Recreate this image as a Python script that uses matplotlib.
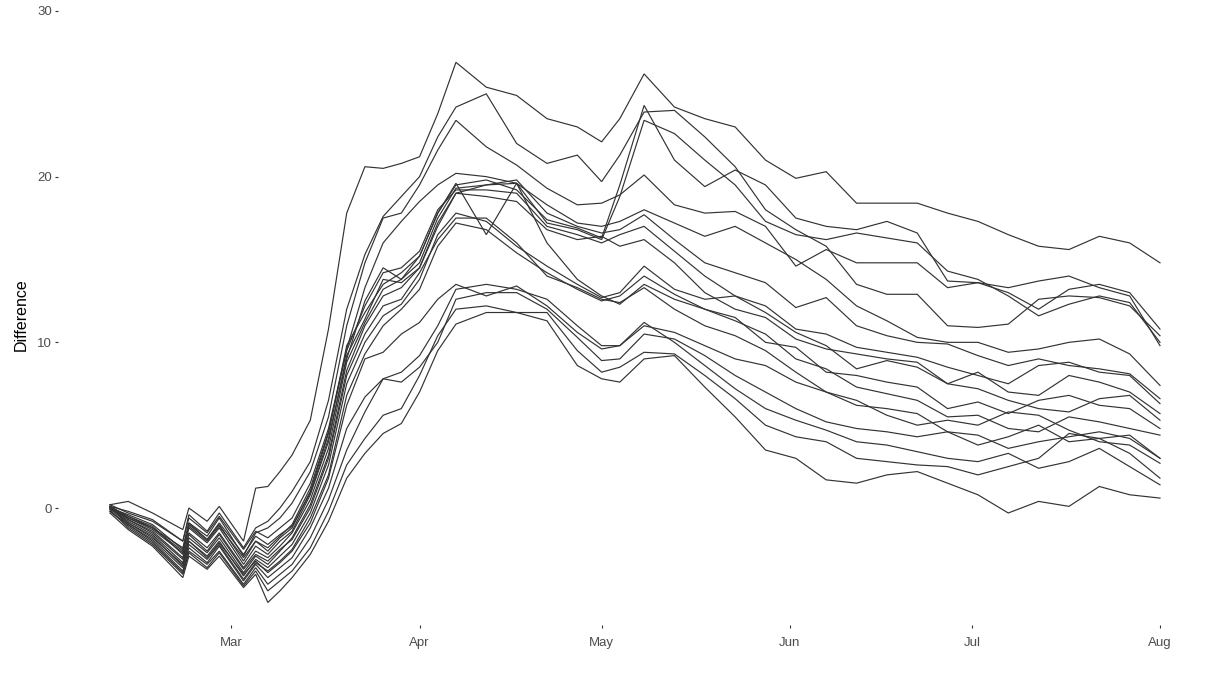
import matplotlib
matplotlib.use('Agg')
import matplotlib.pyplot as plt
import matplotlib.dates as mdates
import numpy as np
import datetime as dt

plt.rcParams['font.family'] = ['Liberation Sans', 'DejaVu Sans']

dates = ['2020-02-10', '2020-02-13', '2020-02-17', '2020-02-22', '2020-02-23', '2020-02-26',
         '2020-02-28', '2020-03-03', '2020-03-05', '2020-03-07', '2020-03-09', '2020-03-11',
         '2020-03-14', '2020-03-17', '2020-03-20', '2020-03-23', '2020-03-26', '2020-03-29',
         '2020-04-01', '2020-04-04', '2020-04-07',
         '2020-04-12', '2020-04-17', '2020-04-22', '2020-04-27', '2020-05-01', '2020-05-04',
         '2020-05-08', '2020-05-13', '2020-05-18', '2020-05-23', '2020-05-28', '2020-06-02',
         '2020-06-07', '2020-06-12', '2020-06-17', '2020-06-22', '2020-06-27', '2020-07-02',
         '2020-07-07', '2020-07-12', '2020-07-17', '2020-07-22', '2020-07-27', '2020-08-01']

T1 = [0.2, 0.4, -0.3, -1.3, 0.0, -0.8, 0.1, -2.0, 1.2, 1.3, 2.2, 3.2,
      5.3, 10.8, 17.8, 20.6, 20.5, 20.8, 21.2, 23.8, 26.9,
      25.4, 24.9, 23.5, 23.0, 22.1, 23.5, 26.2, 24.2, 23.5, 23.0, 21.0, 19.9,
      20.3, 18.4, 18.4, 18.4, 17.8, 17.3, 16.5, 15.8, 15.6, 16.4, 16.0, 14.8]
T2 = [0.1, -0.2, -0.7, -2.0, -0.4, -1.4, -0.3, -2.4, -1.2, -0.8, 0.0, 1.0,
      2.8, 6.5, 12.0, 15.3, 17.6, 18.8, 20.0, 22.4, 24.2,
      25.0, 22.0, 20.8, 21.3, 19.7, 21.3, 23.9, 24.0, 22.4, 20.6, 18.0, 16.8,
      15.8, 13.5, 12.9, 12.9, 11.0, 10.9, 11.1, 12.6, 12.8, 12.7, 12.2, 10.4]
T3 = [0.0, -0.4, -1.0, -2.5, -0.9, -1.7, -0.6, -2.9, -1.5, -1.2, -0.6, 0.3,
      2.2, 5.5, 11.0, 14.8, 17.5, 17.8, 19.5, 21.6, 23.4,
      21.8, 20.7, 19.3, 18.3, 18.4, 18.9, 20.1, 18.3, 17.8, 17.9, 17.0, 14.6,
      15.6, 14.8, 14.8, 14.8, 13.3, 13.6, 13.3, 13.7, 14.0, 13.3, 12.8, 9.8]
SA = [0.1, -0.6, -1.2, -2.6, -1.0, -1.9, -1.0, -3.2, -2.0, -2.6, -1.8, -1.2,
      1.0, 4.5, 9.8, 11.8, 13.5, 14.2, 15.2, 17.8, 19.5,
      19.8, 19.2, 17.4, 16.9, 16.3, 19.5, 24.3, 21.0, 19.4, 20.4, 19.5, 17.5,
      17.0, 16.8, 17.3, 16.6, 13.7, 13.6, 13.0, 12.0, 13.2, 13.5, 13.0, 10.8]
SB = [0.0, -0.5, -1.1, -2.8, -1.2, -2.1, -1.2, -3.4, -2.3, -2.8, -2.0, -1.4,
      0.8, 4.0, 9.2, 11.4, 13.8, 13.6, 14.5, 17.2, 19.0,
      19.5, 19.6, 17.2, 16.8, 16.2, 18.8, 23.4, 22.6, 21.0, 19.5, 17.3, 16.5,
      16.2, 16.6, 16.3, 16.0, 14.3, 13.8, 12.8, 11.6, 12.3, 12.8, 12.4, 10.0]
T4 = [0.2, -0.3, -0.8, -2.0, -0.6, -1.5, -0.5, -2.5, -1.4, -1.8, -1.2, -0.6,
      1.5, 4.8, 9.6, 13.3, 16.0, 17.3, 18.5, 19.5, 20.2,
      20.0, 19.6, 18.3, 17.2, 17.0, 17.3, 18.0, 17.2, 16.4, 17.0, 16.0, 15.0,
      13.8, 12.2, 11.3, 10.3, 10.0, 10.0, 9.4, 9.6, 10.0, 10.2, 9.3, 7.4]
B1 = [0.1, -0.7, -1.4, -3.0, -1.5, -2.4, -1.5, -3.6, -2.6, -3.0, -2.3, -1.5,
      0.5, 3.6, 8.8, 11.2, 13.2, 13.8, 14.8, 17.5, 19.3,
      19.5, 19.8, 17.8, 17.0, 16.6, 16.8, 17.7, 16.2, 14.8, 14.2, 13.6, 12.1,
      12.7, 11.0, 10.4, 10.0, 9.9, 9.2, 8.6, 9.0, 8.6, 8.4, 8.1, 6.6]
B2 = [-0.1, -0.6, -1.3, -2.7, -1.1, -2.0, -1.1, -3.0, -2.0, -2.4, -1.7, -1.0,
      1.2, 4.6, 9.5, 12.2, 14.2, 14.5, 15.5, 18.0, 19.2,
      19.2, 19.0, 17.0, 16.5, 16.0, 16.5, 17.0, 15.5, 14.0, 12.8, 12.2, 10.8,
      10.5, 9.7, 9.4, 9.1, 8.5, 8.0, 7.5, 8.6, 8.8, 8.2, 8.0, 6.3]
B3 = [0.0, -0.8, -1.6, -3.3, -1.8, -2.7, -1.8, -3.9, -2.9, -3.4, -2.6, -1.8,
      0.2, 3.2, 8.3, 11.0, 12.8, 13.3, 14.5, 17.0, 19.0,
      18.8, 18.5, 16.8, 16.2, 16.4, 15.8, 16.2, 14.8, 13.0, 12.0, 11.5, 10.2,
      9.6, 9.3, 9.0, 8.8, 7.5, 8.2, 7.0, 6.8, 8.0, 7.6, 7.0, 5.7]
Bd = [0.1, -0.5, -1.2, -2.4, -0.9, -1.9, -0.9, -2.8, -1.7, -2.2, -1.6, -1.1,
      0.9, 4.2, 9.0, 12.5, 14.5, 13.8, 15.2, 17.8, 19.6,
      16.5, 19.6, 16.0, 13.8, 12.8, 12.3, 13.5, 12.6, 12.0, 11.5, 10.0, 9.7,
      8.2, 8.0, 7.6, 7.3, 6.0, 6.4, 5.7, 6.5, 6.8, 6.2, 6.0, 4.8]
C1 = [0.0, -0.9, -1.7, -3.5, -2.0, -2.9, -2.0, -4.1, -3.1, -3.6, -2.9, -2.2,
      -0.3, 2.6, 7.5, 10.0, 11.6, 12.3, 13.8, 16.5, 17.8,
      17.3, 15.8, 14.6, 13.5, 12.7, 13.0, 14.6, 13.2, 12.6, 12.8, 11.8, 10.6,
      9.8, 8.4, 8.9, 8.5, 7.5, 7.2, 6.5, 6.0, 5.8, 6.6, 6.8, 5.3]
C2 = [-0.2, -1.0, -1.9, -3.6, -2.2, -3.1, -2.2, -4.3, -3.3, -3.8, -3.2, -2.5,
      -0.6, 2.0, 6.8, 9.3, 11.0, 12.0, 13.2, 15.8, 17.2,
      16.8, 15.4, 14.2, 13.2, 12.5, 12.8, 14.0, 12.9, 12.0, 11.3, 10.5, 9.0,
      8.4, 7.3, 6.9, 6.5, 5.5, 5.6, 4.8, 4.6, 5.5, 5.2, 4.8, 4.4]
C3 = [0.1, -0.7, -1.5, -3.1, -1.6, -2.6, -1.6, -3.7, -2.8, -3.2, -2.5, -1.9,
      0.0, 3.0, 8.0, 10.5, 12.2, 12.6, 14.2, 16.2, 17.5,
      17.5, 16.0, 14.0, 13.3, 12.6, 12.4, 13.3, 12.0, 11.0, 10.4, 9.5, 8.2,
      7.0, 6.2, 6.0, 5.7, 4.6, 4.4, 3.6, 4.0, 4.3, 4.6, 4.2, 3.0]
D1 = [0.0, -1.0, -2.0, -3.8, -2.4, -3.3, -2.3, -4.4, -3.4, -4.2, -3.6, -3.0,
      -1.2, 1.2, 4.8, 6.7, 7.8, 8.2, 9.2, 11.0, 13.2,
      13.5, 13.2, 12.6, 11.0, 9.8, 9.8, 11.0, 10.6, 9.8, 9.0, 8.6, 7.6,
      7.0, 6.5, 5.6, 5.0, 5.3, 5.0, 5.8, 5.6, 4.7, 4.0, 3.8, 2.7]
D2 = [-0.2, -1.1, -2.1, -3.9, -2.6, -3.4, -2.6, -4.6, -3.6, -4.6, -4.0, -3.4,
      -1.8, 0.5, 3.5, 5.8, 7.8, 7.6, 8.5, 10.0, 12.6,
      13.0, 13.0, 12.0, 10.3, 8.9, 9.0, 10.5, 10.2, 9.2, 8.0, 7.0, 6.0,
      5.2, 4.8, 4.6, 4.3, 4.6, 3.8, 4.3, 5.0, 4.0, 4.2, 3.3, 1.8]
D3 = [0.1, -0.9, -1.8, -3.4, -2.0, -3.0, -2.1, -4.0, -3.2, -3.9, -3.3, -2.6,
      -0.9, 1.8, 6.2, 9.0, 9.4, 10.5, 11.2, 12.6, 13.5,
      12.8, 13.4, 12.2, 10.6, 9.6, 9.8, 11.2, 10.0, 8.6, 7.2, 6.0, 5.3,
      4.7, 4.0, 3.8, 3.4, 3.0, 2.8, 3.3, 2.4, 2.8, 3.6, 2.5, 1.4]
D4 = [-0.1, -1.2, -2.2, -4.0, -2.7, -3.6, -2.7, -4.7, -3.8, -5.0, -4.4, -3.8,
      -2.4, -0.2, 2.6, 4.2, 5.6, 6.0, 8.0, 10.4, 12.0,
      12.2, 11.8, 11.8, 9.5, 8.2, 8.5, 9.4, 9.3, 8.0, 6.6, 5.0, 4.3,
      4.0, 3.0, 2.8, 2.6, 2.5, 2.0, 2.5, 3.0, 4.5, 4.2, 4.4, 3.0]
D5 = [-0.3, -1.3, -2.3, -4.2, -2.9, -3.7, -2.9, -4.8, -4.0, -5.7, -5.0, -4.2,
      -2.8, -0.8, 1.8, 3.3, 4.5, 5.1, 7.0, 9.5, 11.1,
      11.8, 11.8, 11.3, 8.6, 7.8, 7.6, 9.0, 9.2, 7.3, 5.5, 3.5, 3.0,
      1.7, 1.5, 2.0, 2.2, 1.5, 0.8, -0.3, 0.4, 0.1, 1.3, 0.8, 0.6]

series = [T1, T2, T3, SA, SB, T4, B1, B2, B3, Bd, C1, C2, C3, D1, D2, D3, D4, D5]

x = mdates.date2num([dt.datetime.strptime(d, '%Y-%m-%d') for d in dates])

W, H = 1218, 678
fig = plt.figure(figsize=(W / 100, H / 100), dpi=100)
left, right, top, bottom = 57.5, 1212.5, 5, 625
ax = fig.add_axes([left / W, (H - bottom) / H, (right - left) / W, (bottom - top) / H])

for s in series:
    ax.plot(x, s, color='#333333', lw=0.85, solid_joinstyle='miter')

pad = 8.65
ax.set_xlim(x[0] - pad, x[-1] + pad)
ax.set_ylim(-7.06, 30.36)

for sp in ax.spines.values():
    sp.set_visible(False)

ax.set_yticks([0, 10, 20, 30])
months = ['2020-03-01', '2020-04-01', '2020-05-01', '2020-06-01', '2020-07-01', '2020-08-01']
ax.set_xticks(mdates.date2num([dt.datetime.strptime(m, '%Y-%m-%d') for m in months]))
ax.xaxis.set_major_formatter(mdates.DateFormatter('%b'))
ax.tick_params(axis='both', length=2.5, width=0.8, color='#333333',
               labelcolor='#4d4d4d', labelsize=9.5, pad=1.5)
ax.tick_params(axis='x', pad=6)
ax.set_ylabel('Difference', fontsize=11.5, color='black', labelpad=6)
ax.grid(False)

fig.savefig('out.png', dpi=100)
